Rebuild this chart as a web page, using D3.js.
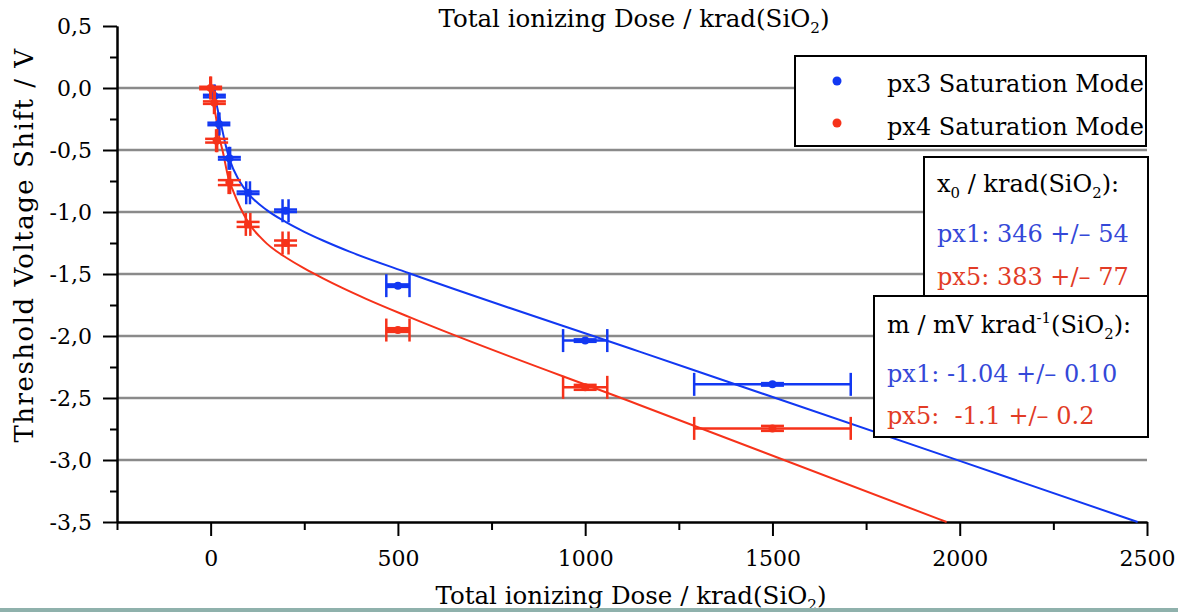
<!DOCTYPE html>
<html>
<head>
<meta charset="utf-8">
<script src="https://cdn.jsdelivr.net/npm/d3@7"></script>
<style>
  body { margin: 0; background: #fff; }
  svg text { font-family: "DejaVu Serif", "Liberation Serif", serif; white-space: pre; }
</style>
</head>
<body>
<script>
// measured points, px3 (blue) and px4 (red)
const doseBlue = [10, 22, 50, 100, 200, 500, 1000, 1500];
const shiftBlue = [-0.065, -0.29, -0.567, -0.845, -0.99, -1.594, -2.037, -2.39];
const doseErrBlue = [1, 1.5, 2, 5, 8, 31, 59, 209];
const shiftErrBlue = [0.01, 0.01, 0.01, 0.01, 0.01, 0.01, 0.01, 0.01];

const doseRed = [0, 10, 16, 50, 100, 200, 500, 1000, 1500];
const shiftRed = [0, -0.118, -0.425, -0.763, -1.10, -1.25, -1.952, -2.414, -2.745];
const doseErrRed = [1, 1, 1.5, 2, 6, 8, 31, 59, 209];
const shiftErrRed = [0.01, 0.01, 0.015, 0.02, 0.02, 0.02, 0.015, 0.02, 0.02];

// fit curves
const fitDoseBlue = [0, 8, 15, 22, 29, 40, 51, 75, 100, 150, 200, 250, 300, 371, 530, 1145, 2000, 2475];
const fitShiftBlue = [0, -0.04, -0.12, -0.22, -0.31, -0.46, -0.58, -0.74, -0.85, -0.985, -1.08, -1.16, -1.23, -1.32, -1.494, -2.126, -3.007, -3.5];
const fitDoseRed = [0, 3, 8, 15, 22, 33, 47, 60, 80, 100, 115, 130, 150, 175, 200, 250, 300, 350, 415, 531, 1145, 1965];
const fitShiftRed = [0, -0.03, -0.12, -0.25, -0.38, -0.52, -0.72, -0.83, -0.97, -1.08, -1.145, -1.195, -1.255, -1.315, -1.365, -1.455, -1.535, -1.61, -1.70, -1.848, -2.556, -3.5];

const xTicks = [0, 500, 1000, 1500, 2000, 2500];
const xMinorTicks = [-250, 250, 750, 1250, 1750, 2250];
const yTicks = [0.5, 0, -0.5, -1, -1.5, -2, -2.5, -3, -3.5];
const yMinorTicks = [0.25, -0.25, -0.75, -1.25, -1.75, -2.25, -2.75, -3.25];
const gridValues = [0, -0.5, -1, -1.5, -2, -2.5, -3];

const blue = "#1238f2";
const red = "#f6321a";
const blueText = "#3448d8";
const redText = "#e23b26";

const svgWidth = 1178;
const svgHeight = 612;
const fmt = d3.formatLocale({decimal: ",", thousands: ".", grouping: [3], currency: ["", ""], minus: "-"}).format(".1f");

const svg = d3.select("body").append("svg")
    .attr("width", svgWidth)
    .attr("height", svgHeight);

svg.append("rect").attr("width", svgWidth).attr("height", svgHeight).attr("fill", "#fff");

const x = d3.scaleLinear().domain([-250, 2500]).range([117, 1147]);
const y = d3.scaleLinear().domain([-3.5, 0.5]).range([522, 26]);

// grid
svg.append("g").selectAll("line")
    .data(gridValues)
    .join("line")
    .attr("x1", x(-250)).attr("x2", x(2500))
    .attr("y1", d => y(d)).attr("y2", d => y(d))
    .attr("stroke", "#8a8a8a")
    .attr("stroke-width", 2.5);

// axes
function styleAxis(g) {
    g.attr("font-family", null);
    g.select(".domain").attr("stroke", "#000").attr("stroke-width", 2);
    g.selectAll(".tick line").attr("stroke", "#000").attr("stroke-width", 2);
    g.selectAll(".tick text").attr("fill", "#000").style("font-size", "22px");
}

svg.append("g")
    .attr("transform", `translate(0, ${y(-3.5)})`)
    .call(d3.axisBottom(x).tickValues(xMinorTicks).tickSize(8).tickSizeOuter(0).tickFormat(""))
    .call(styleAxis);
svg.append("g")
    .attr("transform", `translate(0, ${y(-3.5)})`)
    .call(d3.axisBottom(x).tickValues(xTicks).tickSize(14).tickSizeOuter(0).tickPadding(14).tickFormat(d => d))
    .call(styleAxis);

svg.append("g")
    .attr("transform", `translate(${x(-250)}, 0)`)
    .call(d3.axisLeft(y).tickValues(yMinorTicks).tickSize(7).tickSizeOuter(0).tickFormat(""))
    .call(styleAxis);
svg.append("g")
    .attr("transform", `translate(${x(-250)}, 0)`)
    .call(d3.axisLeft(y).tickValues(yTicks).tickSize(14).tickSizeOuter(0).tickPadding(11).tickFormat(fmt))
    .call(styleAxis);

// fit curves
const line = d3.line()
    .x(d => x(d[0]))
    .y(d => y(d[1]))
    .curve(d3.curveMonotoneX);

svg.append("path")
    .attr("d", line(d3.zip(fitDoseBlue, fitShiftBlue)))
    .attr("fill", "none").attr("stroke", blue).attr("stroke-width", 2);
svg.append("path")
    .attr("d", line(d3.zip(fitDoseRed, fitShiftRed)))
    .attr("fill", "none").attr("stroke", red).attr("stroke-width", 2);

// points with error bars
const cap = 11.5;
function drawSeries(dose, shift, doseErr, shiftErr, color) {
    const data = dose.map((d, i) => ({d: d, v: shift[i], dx: doseErr[i], dy: shiftErr[i]}));
    const g = svg.append("g").attr("stroke", color).attr("stroke-width", 2.5);
    const pt = g.selectAll("g").data(data).join("g");

    pt.append("line")
        .attr("x1", p => x(p.d - p.dx)).attr("x2", p => x(p.d + p.dx))
        .attr("y1", p => y(p.v)).attr("y2", p => y(p.v));
    pt.append("line")
        .attr("x1", p => x(p.d - p.dx)).attr("x2", p => x(p.d - p.dx))
        .attr("y1", p => y(p.v) - cap).attr("y2", p => y(p.v) + cap);
    pt.append("line")
        .attr("x1", p => x(p.d + p.dx)).attr("x2", p => x(p.d + p.dx))
        .attr("y1", p => y(p.v) - cap).attr("y2", p => y(p.v) + cap);

    pt.append("line")
        .attr("x1", p => x(p.d)).attr("x2", p => x(p.d))
        .attr("y1", p => y(p.v - p.dy)).attr("y2", p => y(p.v + p.dy));
    pt.append("line")
        .attr("x1", p => x(p.d) - cap).attr("x2", p => x(p.d) + cap)
        .attr("y1", p => y(p.v - p.dy)).attr("y2", p => y(p.v - p.dy));
    pt.append("line")
        .attr("x1", p => x(p.d) - cap).attr("x2", p => x(p.d) + cap)
        .attr("y1", p => y(p.v + p.dy)).attr("y2", p => y(p.v + p.dy));

    pt.append("circle")
        .attr("cx", p => x(p.d)).attr("cy", p => y(p.v))
        .attr("r", 4)
        .attr("fill", color).attr("stroke", "none");
}
drawSeries(doseBlue, shiftBlue, doseErrBlue, shiftErrBlue, blue);
drawSeries(doseRed, shiftRed, doseErrRed, shiftErrRed, red);

// text with sub / superscripts
function rich(text, parts, size) {
    let shift = 0;
    parts.forEach(([t, mode]) => {
        const target = mode === "sub" ? 6 : mode === "sup" ? -10 : 0;
        const ts = text.append("tspan").attr("dy", target - shift).text(t);
        if (mode) ts.style("font-size", (size * 0.62) + "px");
        shift = target;
    });
    return text;
}

const doseLabel = [["Total ionizing Dose / krad(SiO"], ["2", "sub"], [")"]];

rich(svg.append("text")
    .attr("x", 634).attr("y", 27)
    .attr("text-anchor", "middle")
    .style("font-size", "24.5px"), doseLabel, 24.5);

rich(svg.append("text")
    .attr("x", 631).attr("y", 604)
    .attr("text-anchor", "middle")
    .style("font-size", "24.5px"), doseLabel, 24.5);

svg.append("text")
    .attr("transform", "translate(33, 245) rotate(-90)")
    .attr("text-anchor", "middle")
    .style("font-size", "26px").style("letter-spacing", "1.5px")
    .text("Threshold Voltage Shift / V");

// legend
const fs = 24;
const legend = svg.append("g");
legend.append("rect")
    .attr("x", 795).attr("y", 56).attr("width", 351).attr("height", 90)
    .attr("fill", "#fff").attr("stroke", "#000").attr("stroke-width", 2);
legend.append("circle").attr("cx", 837).attr("cy", 81).attr("r", 4.5).attr("fill", blue);
legend.append("circle").attr("cx", 837).attr("cy", 123).attr("r", 4.5).attr("fill", red);
legend.append("text").attr("x", 887).attr("y", 92)
    .style("font-size", fs + "px")
    .text("px3 Saturation Mode");
legend.append("text").attr("x", 887).attr("y", 135)
    .style("font-size", fs + "px")
    .text("px4 Saturation Mode");

// fit parameter boxes
const box1 = svg.append("g");
box1.append("rect")
    .attr("x", 924).attr("y", 157).attr("width", 224).attr("height", 150)
    .attr("fill", "#fff").attr("stroke", "#000").attr("stroke-width", 2);
rich(box1.append("text").attr("x", 937).attr("y", 192)
    .style("font-size", fs + "px"),
    [["x"], ["0", "sub"], [" / krad(SiO"], ["2", "sub"], ["):"]], fs);
box1.append("text").attr("x", 937).attr("y", 242)
    .style("font-size", fs + "px").attr("fill", blueText)
    .text("px1: 346 +/\u2013 54");
box1.append("text").attr("x", 937).attr("y", 285)
    .style("font-size", fs + "px").attr("fill", redText)
    .text("px5: 383 +/\u2013 77");

const box2 = svg.append("g");
box2.append("rect")
    .attr("x", 874).attr("y", 296).attr("width", 274).attr("height", 141)
    .attr("fill", "#fff").attr("stroke", "#000").attr("stroke-width", 2);
rich(box2.append("text").attr("x", 887).attr("y", 333)
    .style("font-size", fs + "px"),
    [["m / mV krad"], ["-1", "sup"], ["(SiO"], ["2", "sub"], ["):"]], fs);
box2.append("text").attr("x", 887).attr("y", 382)
    .style("font-size", fs + "px").attr("fill", blueText)
    .text("px1: -1.04 +/\u2013 0.10");
box2.append("text").attr("x", 887).attr("y", 424)
    .style("font-size", fs + "px").attr("fill", redText)
    .text("px5:  -1.1 +/\u2013 0.2");

// strip along the bottom edge
svg.append("rect")
    .attr("x", 0).attr("y", 608).attr("width", svgWidth).attr("height", 4)
    .attr("fill", "#8fb1ac");
</script>
</body>
</html>
